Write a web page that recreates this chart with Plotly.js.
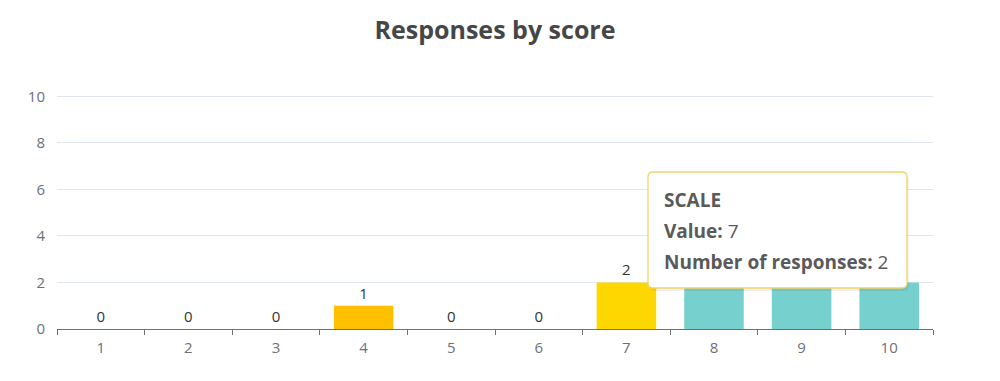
<!DOCTYPE html>
<html>
<head>
<meta charset="utf-8">
<script src="https://cdn.plot.ly/plotly-3.0.1.min.js"></script>
<style>html,body{margin:0;padding:0;background:#fff;}#chart{width:1000px;height:381px;}</style>
</head>
<body>
<div id="chart"></div>
<script>
const scores = ["1","2","3","4","5","6","7","8","9","10"];
const responses = [0,0,0,1,0,0,2,2,2,2];
const barColors = ["#FFC000","#FFC000","#FFC000","#FFC000","#FFD700","#FFD700","#FFD700","#76D1CE","#76D1CE","#76D1CE"];
const yTicks = [0,2,4,6,8,10];
const tooltipLines = ["<b>SCALE</b>","<b>Value:</b> 7","<b>Number of responses:</b> 2"];

const W = 1000, H = 381;
const m = {l:57, r:67, t:94, b:52};
const pw = W - m.l - m.r, ph = H - m.t - m.b;
function px(x){return (x - m.l)/pw;}
function py(y){return (H - m.b - y)/ph;}

const bx0 = 648, bx1 = 907, by0 = 172, by1 = 288, r = 5;
function rrect(x0,y0,x1,y1,r){
  const X = v=>px(v).toFixed(5), Y = v=>py(v).toFixed(5);
  return `M${X(x0+r)},${Y(y0)} L${X(x1-r)},${Y(y0)} Q${X(x1)},${Y(y0)} ${X(x1)},${Y(y0+r)} ` +
         `L${X(x1)},${Y(y1-r)} Q${X(x1)},${Y(y1)} ${X(x1-r)},${Y(y1)} L${X(x0+r)},${Y(y1)} ` +
         `Q${X(x0)},${Y(y1)} ${X(x0)},${Y(y1-r)} L${X(x0)},${Y(y0+r)} Q${X(x0)},${Y(y0)} ${X(x0+r)},${Y(y0)} Z`;
}

const trace = {
  type: 'bar',
  x: scores,
  y: responses,
  marker: {color: barColors},
  text: responses.map(String),
  textposition: 'outside',
  textfont: {family: 'Open Sans, sans-serif', size: 15, color: '#333333'},
  cliponaxis: false,
  hoverinfo: 'none'
};

const annotations = tooltipLines.map((t,i)=>({
  xref:'paper', yref:'paper', x: px(662), y: py(200 + i*31),
  xanchor:'left', yanchor:'middle', showarrow:false, text:t,
  font:{family:'Open Sans, sans-serif', size:19, color:'#5a5a5a'}
}));

const layout = {
  width: W, height: H,
  margin: m,
  paper_bgcolor: '#ffffff', plot_bgcolor: '#ffffff',
  font: {family: 'Open Sans, sans-serif', color: '#6E7079'},
  title: {text: '<b>Responses by score</b>', x: 0.495, xanchor: 'center', y: 0.92, yanchor: 'middle',
          font: {family: 'Open Sans, sans-serif', size: 25, color: '#464646'}},
  bargap: 0.32,
  showlegend: false,
  xaxis: {
    type: 'category', range: [-0.5, 9.5], tickson: 'boundaries',
    ticks: 'outside', ticklen: 5, tickcolor: '#6E7079',
    showline: true, linecolor: '#6E7079', linewidth: 1,
    showgrid: false, zeroline: false, ticklabelstandoff: 5,
    tickfont: {size: 15, color: '#6E7079'}, fixedrange: true
  },
  yaxis: {
    range: [0, 10.1], tickvals: yTicks, ticktext: yTicks.map(String),
    showgrid: true, gridcolor: '#E0E6F1', gridwidth: 1,
    zeroline: false, showline: false, ticks: '', ticklabelstandoff: 11,
    tickfont: {size: 15, color: '#6E7079'}, fixedrange: true
  },
  shapes: [
    {type:'path', xref:'paper', yref:'paper', path: rrect(bx0+2,by0+3,bx1+2,by1+3,r),
     fillcolor:'rgba(0,0,0,0.06)', line:{width:0}, layer:'above'},
    {type:'path', xref:'paper', yref:'paper', path: rrect(bx0,by0,bx1,by1,r),
     fillcolor:'#ffffff', line:{color:'#F3D36B', width:1.3}, layer:'above'}
  ],
  annotations: annotations
};

Plotly.newPlot('chart', [trace], layout, {displayModeBar:false, staticPlot:true});
</script>
</body>
</html>
